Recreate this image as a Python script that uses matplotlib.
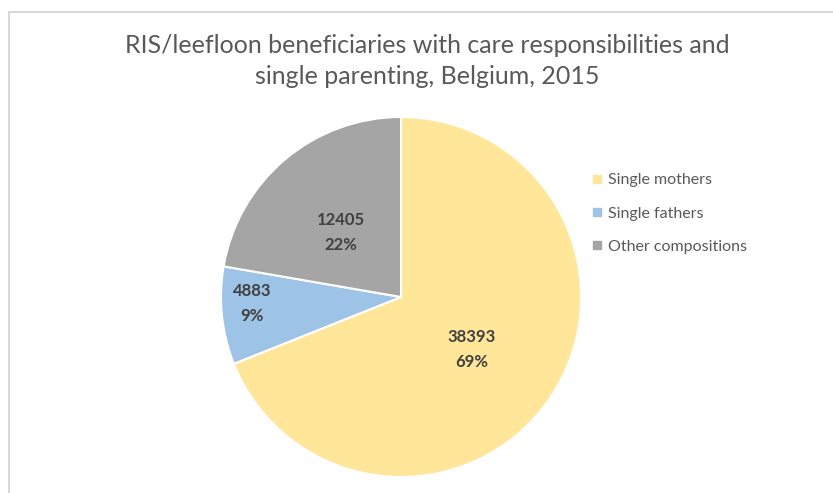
import matplotlib
matplotlib.use("Agg")
import matplotlib.pyplot as plt
from matplotlib.lines import Line2D
from matplotlib.patches import Rectangle
import numpy as np

categories = ["Single mothers", "Single fathers", "Other compositions"]
values = [38393, 4883, 12405]
percent_labels = ["69%", "9%", "22%"]
colors = ["#FFE699", "#9DC3E6", "#A5A5A5"]
title = "RIS/leefloon beneficiaries with care responsibilities and\nsingle parenting, Belgium, 2015"

plt.rcParams['font.family'] = ['Lato', 'DejaVu Sans']

W, H = 833, 493
fig = plt.figure(figsize=(W / 100, H / 100), dpi=100)

# border frame
fig.patches.append(Rectangle((9 / W, -0.05), 1.2, (H - 12) / H + 0.05,
                             transform=fig.transFigure, fill=False,
                             edgecolor="#D9D9D9", linewidth=1.5))

cx, cy, r = 401, 297, 180
ax = fig.add_axes([(cx - r) / W, (H - cy - r) / H, 2 * r / W, 2 * r / H])
wedges, _ = ax.pie(values, colors=colors, startangle=90, counterclock=False,
                   radius=1, wedgeprops=dict(edgecolor="white", linewidth=1.5))
ax.set_xlim(-1, 1)
ax.set_ylim(-1, 1)
ax.set_aspect("equal")
ax.axis("off")

dist = [0.49, 0.83, 0.49]
offs = [-2.5, -3.5, 3.0]
for w, v, p, d, o in zip(wedges, values, percent_labels, dist, offs):
    ang = np.deg2rad((w.theta1 + w.theta2) / 2 + o)
    ax.text(d * np.cos(ang), d * np.sin(ang), f"{v}\n{p}", ha="center", va="center",
            fontsize=12, fontweight="bold", color="#404040", linespacing=1.65)

fig.text(427 / W, 1 - 61 / H, title, ha="center", va="center", fontsize=18,
         color="#595959", linespacing=1.45)

handles = [Line2D([0], [0], marker="s", linestyle="none", markersize=5.5,
                  markerfacecolor=c, markeredgecolor=c) for c in colors]
leg = fig.legend(handles, categories, loc="upper left",
                 bbox_to_anchor=(583 / W, 1 - 165 / H), frameon=False,
                 fontsize=11.5, labelcolor="#595959", handlelength=0.7,
                 handletextpad=0.35, labelspacing=1.2, borderpad=0)

fig.savefig("out.png", dpi=100, facecolor="white")
